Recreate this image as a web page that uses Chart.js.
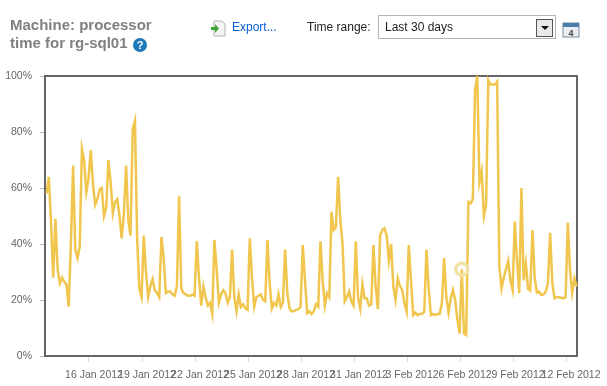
<!DOCTYPE html>
<html>
<head>
<meta charset="utf-8">
<title>Machine: processor time for rg-sql01</title>
<script src="https://cdn.jsdelivr.net/npm/chart.js@4"></script>
<style>
html, body { margin: 0; padding: 0; background: #fff; overflow: hidden; }
body { width: 607px; height: 386px; position: relative; font-family: "Liberation Sans", Arial, sans-serif; }
#chart { position: absolute; left: 0; top: 0; }
.title { position: absolute; left: 10px; top: 16px; width: 160px; font-size: 15px; line-height: 18px; font-weight: bold; color: #808080; }
.export { position: absolute; left: 232px; top: 20px; font-size: 12px; color: #0b5fd8; }
.range { position: absolute; left: 307px; top: 20px; font-size: 12px; color: #222; }
.select { position: absolute; left: 378px; top: 15px; width: 178px; height: 24px; border: 1px solid #b5b5b5; box-sizing: border-box; font-size: 12px; line-height: 23px; padding-left: 6px; color: #222; }
.arrow { position: absolute; right: 2px; top: 3px; width: 15px; height: 16px; background: #e9e9e9; border: 1px solid #555; }
.arrow:after { content: ""; position: absolute; left: 4px; top: 6px; border: 4px solid transparent; border-top: 4px solid #111; }
svg { position: absolute; }
</style>
</head>
<body>
<canvas id="chart" width="607" height="386"></canvas>
<div class="title">Machine: processor<br>time for rg-sql01</div>
<svg style="left:132px;top:37px" width="16" height="16"><circle cx="8" cy="8" r="7" fill="#1f78b8"/><text x="8" y="12" font-size="11" font-weight="bold" fill="#fff" text-anchor="middle" font-family="Liberation Sans">?</text></svg>
<svg style="left:210px;top:20px" width="16" height="17"><path d="M4 1h8l3 3v12H4z" fill="#f4f4f4" stroke="#b5b5b5"/><path d="M1 7h4V4l4 4.500-4 4.500v-3H1z" fill="#3fa535"/></svg>
<div class="export">Export...</div>
<div class="range">Time range:</div>
<div class="select">Last 30 days<div class="arrow"></div></div>
<svg style="left:562px;top:20px" width="18" height="18"><rect x="1" y="3" width="16" height="14" fill="#e8eef4" stroke="#7b8a99"/><rect x="1" y="3" width="16" height="4" fill="#4d7ea8"/><text x="9" y="16" font-size="9" font-weight="bold" fill="#444" text-anchor="middle" font-family="Liberation Sans">4</text></svg>
<script>
// first sample is 13.6 Jan, one sample every 3 hours
const startDay = 13.6;
const samplesPerDay = 8;
const cpuValues = [
  58, 64, 48, 28, 49, 31, 26, 28,
  26.5, 25.5, 17.6, 40, 68, 38, 35, 39,
  74, 70, 58.5, 63.5, 73.5, 61.5, 54, 56,
  59.5, 60, 50, 53, 70, 62, 51, 55,
  56, 50, 42, 51, 68, 48.5, 43, 81,
  84, 42, 24, 21, 43, 30, 21, 25,
  27.5, 23.5, 22.5, 21, 42.5, 35, 22.5, 23,
  23, 22, 21.5, 25, 57, 24, 22.5, 22,
  21.5, 21.5, 22, 21.5, 41, 28, 18, 24.8,
  21, 18, 19, 15, 41.5, 31, 19, 22,
  23.5, 22.5, 19, 21, 38, 21, 16, 22,
  17.5, 18.5, 17, 16.5, 42, 28, 17.6, 21,
  21.5, 22, 20, 19.5, 41.5, 26, 17, 19,
  18, 22, 17.5, 19, 38, 22.4, 17, 16,
  16, 16.5, 16.7, 17.6, 39.6, 27, 15.3, 16,
  15, 16, 18.5, 17.6, 41, 27, 18, 22.4,
  21, 51.5, 45, 46, 64, 48.5, 40, 19.5,
  21, 23, 19.5, 18, 41, 21, 17, 25.7,
  20.6, 20.6, 18, 18.5, 39.6, 24.8, 16.7, 43,
  45, 45.6, 43, 34, 40, 24.8, 20, 27.7,
  25, 23.6, 18.8, 15.8, 39.6, 27, 14.6, 15.5,
  14.6, 15, 15, 15.8, 38, 24, 14.6, 15,
  14.6, 15, 15, 18.8, 35, 21, 15.5, 20.6,
  23.6, 20, 12.9, 8, 31, 8, 7.5, 55,
  54.5, 56, 95, 100, 62, 66, 50, 54,
  98.5, 97, 97, 97, 98, 32, 24, 28,
  31, 34, 27, 23.6, 48, 34, 22.4, 60,
  27, 33, 24, 23.4, 45, 28, 22.6, 23,
  21.8, 22, 23, 26, 44, 26, 20.6, 21,
  21, 20.8, 20.6, 21, 47.7, 30.7, 22.6, 27.7,
  24.8
];
const highlightIndex = 188;
const tickDays = [16, 19, 22, 25, 28, 31, 34, 37, 40, 43];
const tickLabels = ['16 Jan 2012', '19 Jan 2012', '22 Jan 2012', '25 Jan 2012', '28 Jan 2012', '31 Jan 2012', '3 Feb 2012', '6 Feb 2012', '9 Feb 2012', '12 Feb 2012'];
const percentTicks = [0, 20, 40, 60, 80, 100];

const points = cpuValues.map((v, i) => ({ x: startDay + i / samplesPerDay, y: v }));

const frame = {
    id: 'frame',
    beforeDatasetsDraw(chart) {
        const { ctx, chartArea: a } = chart;
        ctx.save();
        ctx.strokeStyle = '#666';
        ctx.lineWidth = 2;
        ctx.strokeRect(a.left, a.top, a.right - a.left, a.bottom - a.top);
        ctx.restore();
    }
};

new Chart(document.getElementById('chart').getContext('2d'), {
    type: 'line',
    data: {
        datasets: [{
            data: points,
            borderColor: '#f1c64e',
            borderWidth: 2.5,
            tension: 0,
            fill: false,
            clip: false,
            pointRadius: (c) => c.dataIndex === highlightIndex ? 6 : 0,
            pointBorderWidth: 3.5,
            pointBorderColor: '#f3e2a6',
            pointBackgroundColor: 'transparent'
        }]
    },
    plugins: [frame],
    options: {
        responsive: false,
        animation: false,
        layout: { padding: { top: 76, right: 30, left: 0, bottom: 0 } },
        plugins: { legend: { display: false }, tooltip: { enabled: false } },
        scales: {
            x: {
                type: 'linear',
                min: 13.51,
                max: 43.62,
                afterBuildTicks: (s) => { s.ticks = tickDays.map(d => ({ value: d })); },
                afterFit: (s) => { s.height = 30; },
                grid: { drawOnChartArea: false, tickLength: 6, tickColor: '#ddd' },
                border: { display: false },
                ticks: {
                    autoSkip: false,
                    maxRotation: 0,
                    minRotation: 0,
                    padding: 7,
                    labelOffset: 5,
                    color: '#666',
                    font: { family: '"Liberation Sans"', size: 10.5 },
                    callback: (v) => tickLabels[tickDays.indexOf(v)]
                }
            },
            y: {
                min: 0,
                max: 100,
                afterBuildTicks: (s) => { s.ticks = percentTicks.map(v => ({ value: v })); },
                afterFit: (s) => { s.width = 45; },
                grid: { drawOnChartArea: false, tickLength: 5, tickColor: '#bbb' },
                border: { display: false },
                ticks: {
                    padding: 8,
                    color: '#666',
                    font: { family: '"Liberation Sans"', size: 10.5 },
                    callback: (v) => v + '%'
                }
            }
        }
    }
});
</script>
</body>
</html>
